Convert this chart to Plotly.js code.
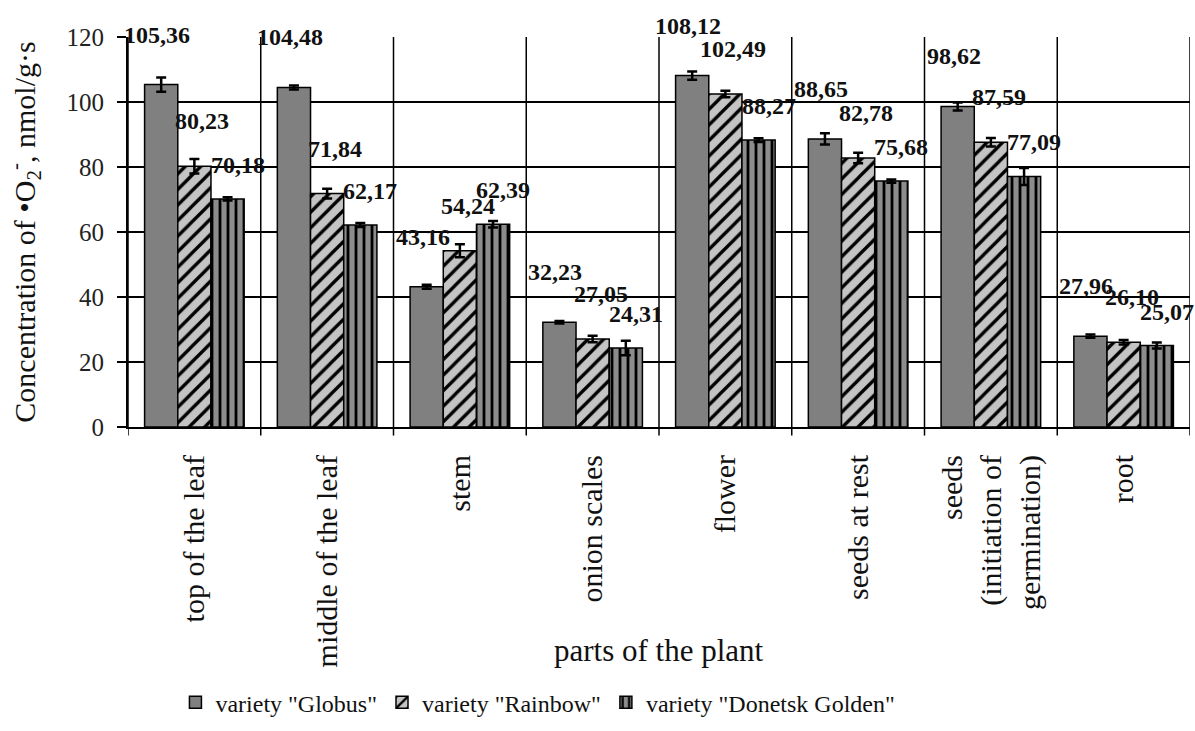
<!DOCTYPE html>
<html><head><meta charset="utf-8">
<script src="https://cdn.plot.ly/plotly-3.0.1.min.js"></script>
<style>html,body{margin:0;padding:0;background:#fff}#chart{width:1195px;height:731px}</style>
</head><body><div id="chart"></div>
<script>
const categories = ["top of the leaf", "middle of the leaf", "stem", "onion scales", "flower", "seeds at rest", "seeds<br>(initiation of<br>germination)", "root"];
const seriesNames = ['variety "Globus"', 'variety "Rainbow"', 'variety "Donetsk Golden"'];
const globus  = [105.36, 104.48, 43.16, 32.23, 108.12, 88.65, 98.62, 27.96];
const rainbow = [80.23, 71.84, 54.24, 27.05, 102.49, 82.78, 87.59, 26.10];
const donetsk = [70.18, 62.17, 62.39, 24.31, 88.27, 75.68, 77.09, 25.07];
const globusErr  = [2.2, 0.6, 0.6, 0.4, 1.3, 1.7, 1.2, 0.5];
const rainbowErr = [2.2, 1.5, 2.0, 1.0, 1.0, 1.6, 1.3, 0.7];
const donetskErr = [0.5, 0.6, 1.0, 2.2, 0.6, 0.5, 2.6, 0.9];
const yTicks = [0, 20, 40, 60, 80, 100, 120];

const FONT = "Liberation Serif";
const idx = categories.map((_, i) => i);

const styles = [
  {color: "#808080", pattern: {shape: ""}},
  {color: "#c4c4c4", pattern: {shape: "/", bgcolor: "#c4c4c4", fgcolor: "#000", size: 11, solidity: 0.3, fillmode: "replace"}},
  {color: "#8c8c8c", pattern: {shape: "|", bgcolor: "#8c8c8c", fgcolor: "#000", size: 8, solidity: 0.35, fillmode: "replace"}}
];
const values = [globus, rainbow, donetsk];
const errs = [globusErr, rainbowErr, donetskErr];

const traces = values.map((v, s) => ({
  type: "bar",
  name: seriesNames[s],
  x: idx,
  y: v,
  marker: {color: styles[s].color, pattern: styles[s].pattern, line: {color: "#000", width: 1.5}},
  error_y: {type: "data", array: errs[s], visible: true, color: "#000", thickness: 2.5, width: 5}
}));

const fmt = v => v.toFixed(2).replace(".", ",");
const barOffset = [-0.25, 0, 0.25];
const lblShiftY = [50, 45, 34];
const lblShiftX = [-4, 8, 10];
const annotations = [];
values.forEach((v, s) => {
  v.forEach((val, i) => {
    annotations.push({
      x: i + barOffset[s], y: val, xref: "x", yref: "y",
      text: "<b>" + fmt(val) + "</b>", showarrow: false,
      yanchor: "middle", xanchor: "center",
      yshift: lblShiftY[s], xshift: lblShiftX[s],
      font: {family: FONT, size: 24, color: "#111"}
    });
  });
});
annotations.push({
  x: 0.5, y: -(660 - 433) / 396, xref: "paper", yref: "paper", showarrow: false,
  text: "parts of the plant", yanchor: "middle", xanchor: "center",
  font: {family: FONT, size: 31, color: "#111"}
});

const layout = {
  width: 1195, height: 731,
  font: {family: FONT, color: "#111"},
  margin: {l: 128, r: 5, t: 37, b: 298},
  paper_bgcolor: "#fff", plot_bgcolor: "#fff",
  barmode: "group", bargap: 0.25, bargroupgap: 0,
  showlegend: true,
  legend: {orientation: "h", x: 0.386, xanchor: "center", y: -(713 - 433) / 396, yanchor: "middle",
           font: {family: FONT, size: 24, color: "#111"}, itemwidth: 30, tracegroupgap: 0},
  xaxis: {
    type: "linear", range: [-0.5, 7.5],
    tickmode: "array", tickvals: idx, ticktext: categories,
    tickangle: -90, tickfont: {family: FONT, size: 30, color: "#111"},
    showgrid: false, showline: true, linecolor: "#000", linewidth: 2,
    ticks: "", zeroline: false, ticklabelstandoff: 14
  },
  yaxis: {
    range: [0, 120], tickmode: "array", tickvals: yTicks,
    tickfont: {family: FONT, size: 25, color: "#222"},
    ticks: "outside", ticklen: 9, tickwidth: 2, tickcolor: "#000",
    showgrid: true, gridcolor: "#000", gridwidth: 2,
    showline: true, linecolor: "#000", linewidth: 2, zeroline: false,
    ticklabelstandoff: 8,
    title: {text: "Concentration of •O<sub>2</sub><sup>-</sup>, nmol/g·s", standoff: 22,
            font: {family: FONT, size: 30, color: "#111"}}
  },
  shapes: [],
  annotations: annotations
};
for (let b = -0.5; b <= 7.5; b += 1) {
  layout.shapes.push({type: "line", xref: "x", yref: "paper", x0: b, x1: b, y0: 0, y1: 1,
                      line: {color: "#000", width: 1.5}, layer: "below"});
  layout.shapes.push({type: "line", xref: "x", yref: "paper", x0: b, x1: b, y0: 0, y1: -0.022,
                      line: {color: "#000", width: 1.5}});
}
Plotly.newPlot("chart", traces, layout, {displayModeBar: false, staticPlot: true});
</script>
</body></html>
